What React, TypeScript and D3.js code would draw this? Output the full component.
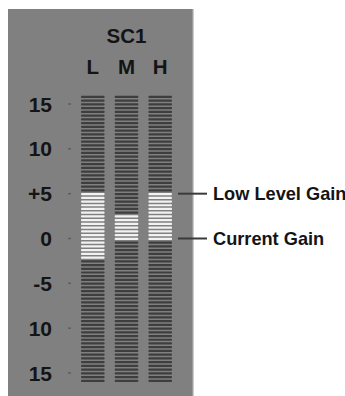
import React from "react";
import * as d3 from "d3";

const title = "SC1";
const channels = ["L", "M", "H"];
const tickValues = [15, 10, 5, 0, -5, -10, -15];
const tickLabels = ["15", "10", "+5", "0", "-5", "10", "15"];
// lit range per channel [low dB, high dB]
const litLow = [-2.2, -0.2, -0.2];
const litHigh = [5, 2.5, 5];
const meterTop = 16;
const meterBottom = -16;
const segmentStep = 5 / 12;
const markers = [
  { label: "Low Level Gain", value: 5 },
  { label: "Current Gain", value: 0 },
];

export default function App() {
  const W = 345,
    H = 396;
  const y = d3.scaleLinear().domain([15, -15]).range([104, 373]);
  const x = d3.scaleBand<string>().domain(channels).range([81, 172]).paddingInner(0.3);
  const nSeg = Math.round((meterTop - meterBottom) / segmentStep);
  const segs = d3.range(nSeg).map((i) => meterTop - (i + 0.5) * segmentStep);
  const pitch = Math.abs(y(0) - y(segmentStep));
  const segH = pitch * 0.6;
  const font = "'Liberation Sans', Arial, Helvetica, sans-serif";

  return (
    <svg
      width={W}
      height={H}
      style={{ position: "absolute", left: 0, top: 0, background: "#fff" }}
    >
      <rect x={8} y={9} width={185} height={400} fill="#808080" />
      <rect x={192} y={9} width={1.5} height={400} fill="#9c9c9c" />
      <text
        x={(x("M") as number) + x.bandwidth() / 2}
        y={43}
        textAnchor="middle"
        fontFamily={font}
        fontWeight="bold"
        fontSize={20.5}
        fill="#141414"
      >
        {title}
      </text>
      {channels.map((c) => (
        <text
          key={c}
          x={(x(c) as number) + x.bandwidth() / 2}
          y={74}
          textAnchor="middle"
          fontFamily={font}
          fontWeight="bold"
          fontSize={20.5}
          fill="#141414"
        >
          {c}
        </text>
      ))}
      {tickValues.map((v, i) => (
        <g key={i}>
          <text
            x={52}
            y={y(v)}
            dy="0.36em"
            textAnchor="end"
            fontFamily={font}
            fontWeight="bold"
            fontSize={21}
            fill="#141414"
          >
            {tickLabels[i]}
          </text>
          <rect x={68} y={y(v) - 0.75} width={3} height={1.5} fill="#5e5e5e" />
        </g>
      ))}
      {channels.map((c, ci) => (
        <g key={c}>
          {segs.map((s, si) => {
            const lit = s >= litLow[ci] && s <= litHigh[ci];
            return (
              <rect
                key={si}
                x={x(c) as number}
                y={y(s) - segH / 2}
                width={x.bandwidth()}
                height={segH}
                rx={0.8}
                fill={lit ? "#f2f2f2" : "#3e3e3e"}
              />
            );
          })}
        </g>
      ))}
      {markers.map((m) => (
        <g key={m.label}>
          <line x1={178} x2={207} y1={y(m.value)} y2={y(m.value)} stroke="#3a3a3a" strokeWidth={2} />
          <text
            x={213}
            y={y(m.value)}
            dy="0.36em"
            fontFamily={font}
            fontWeight="bold"
            fontSize={18.2}
            fill="#141414"
          >
            {m.label}
          </text>
        </g>
      ))}
    </svg>
  );
}
